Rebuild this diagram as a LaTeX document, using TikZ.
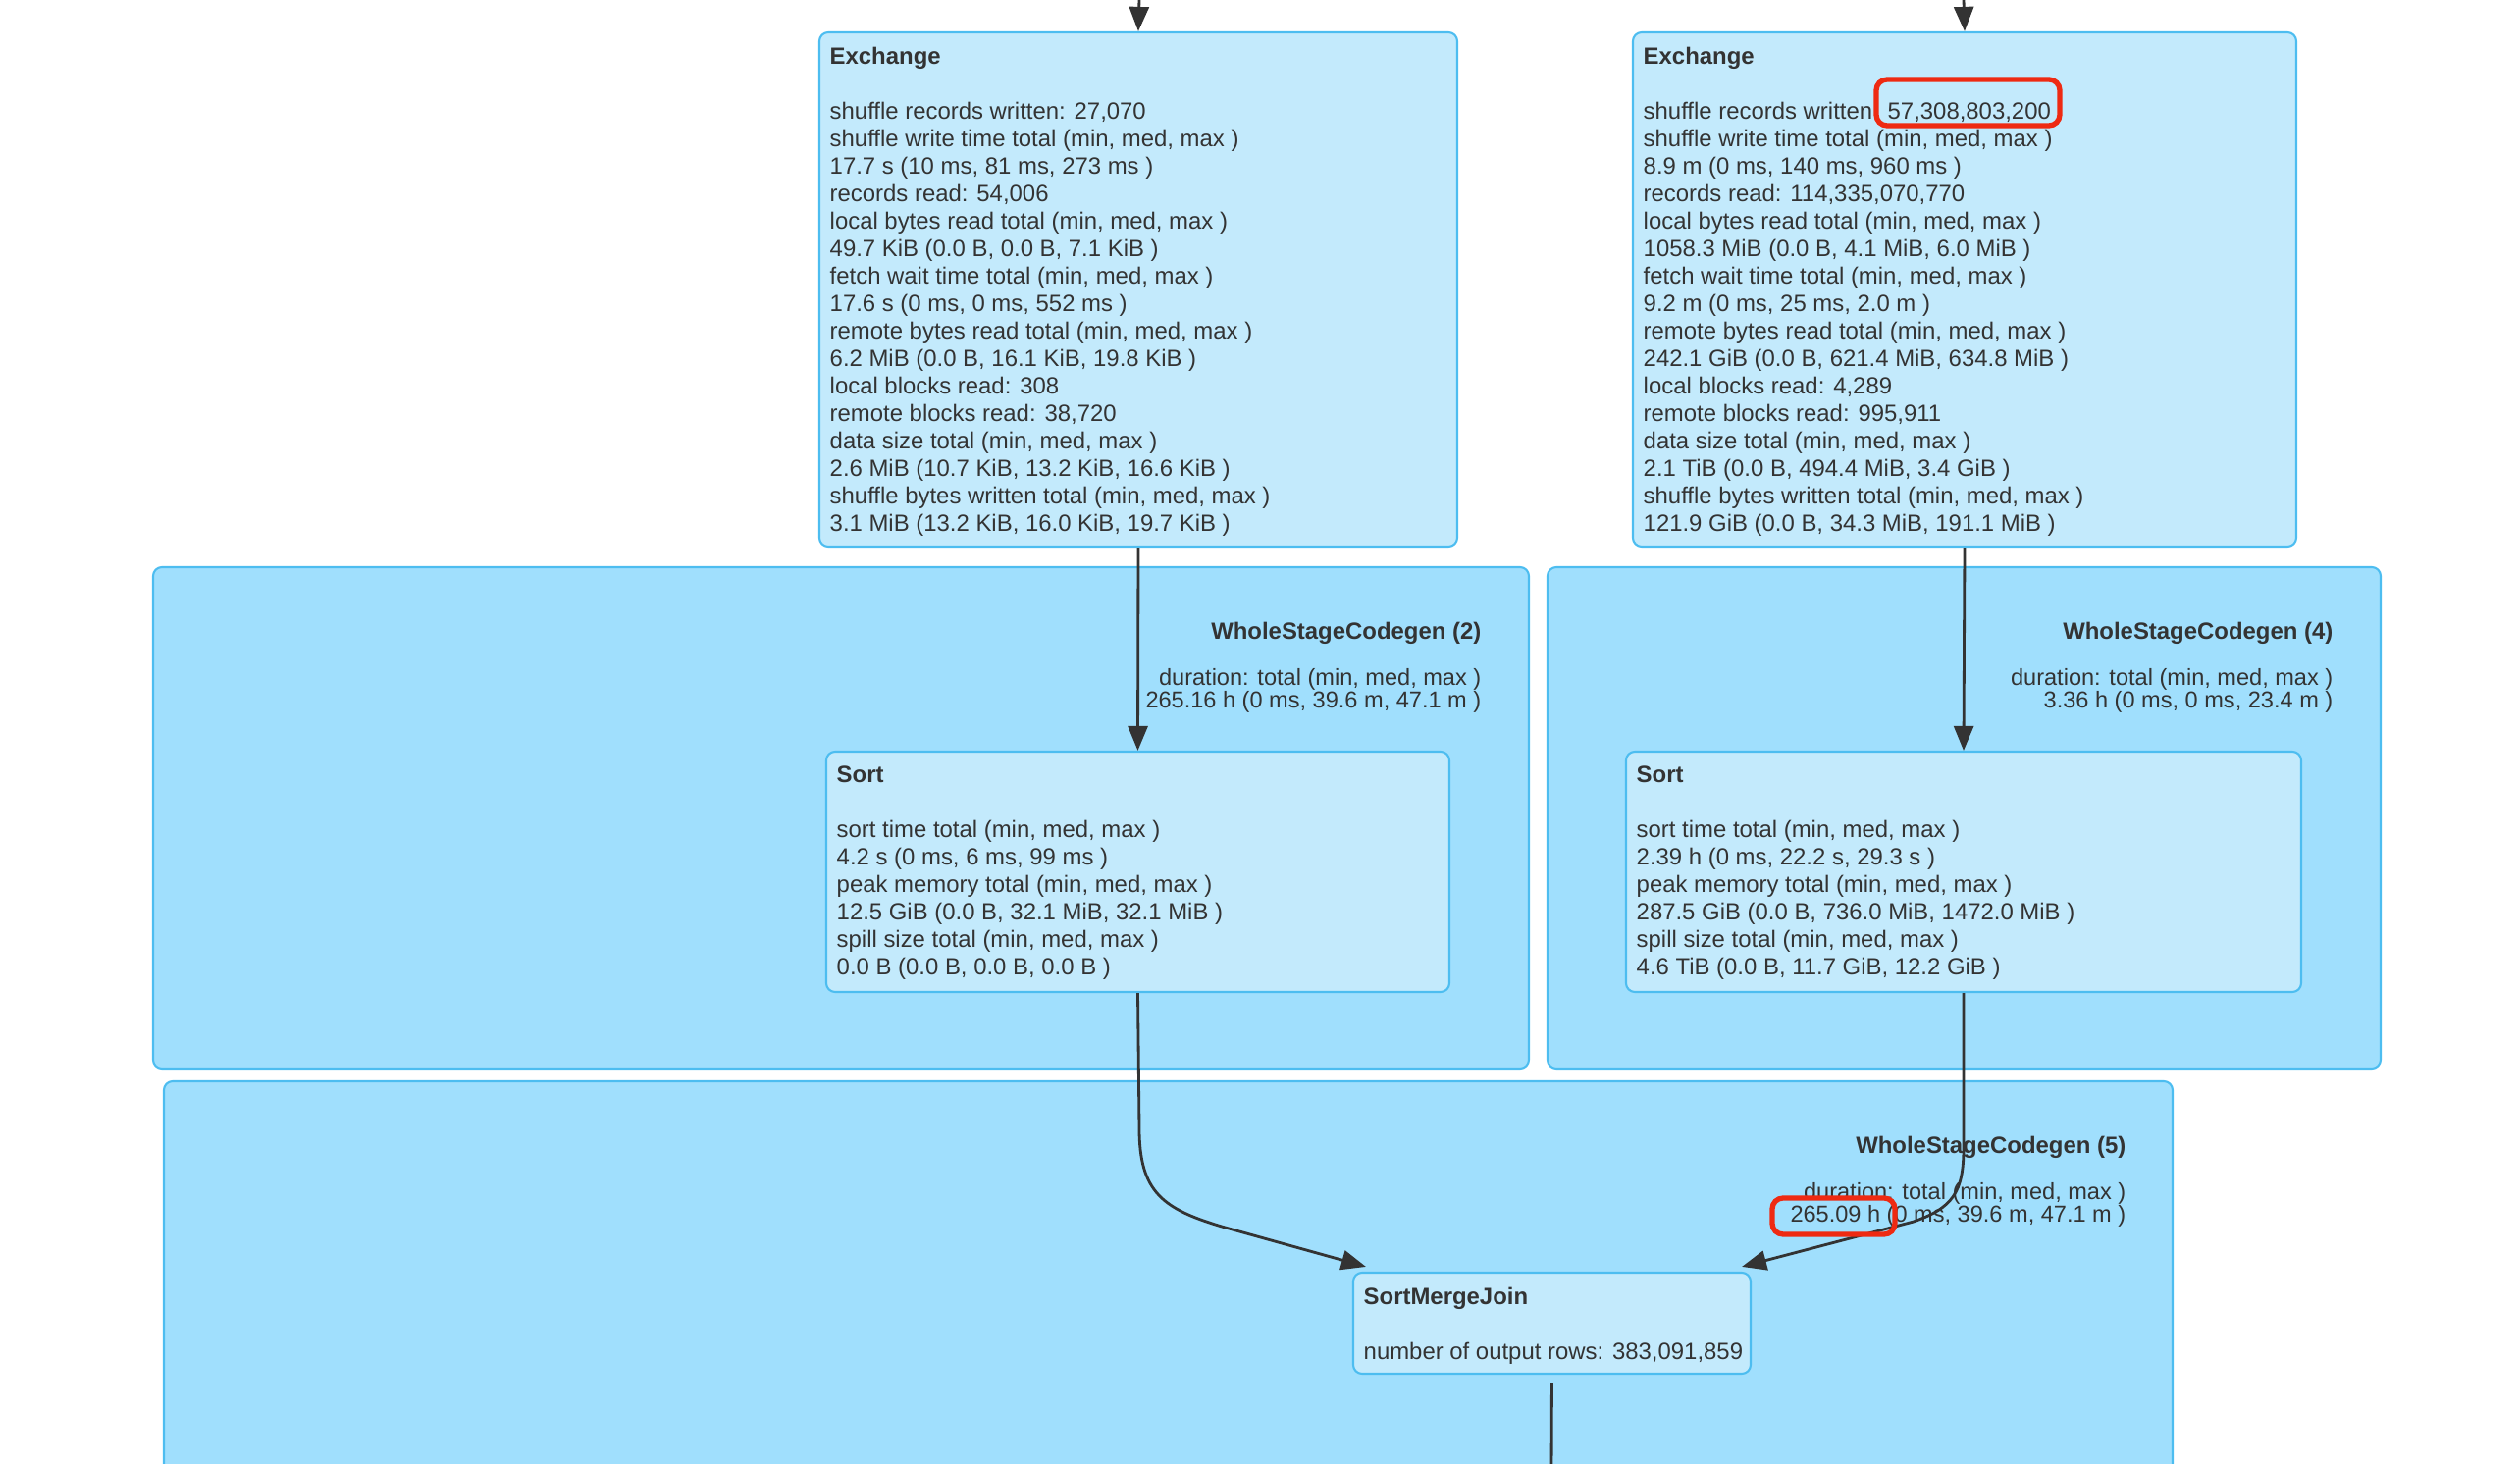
\documentclass[tikz,border=0pt]{standalone}
\usepackage{fontspec}
\setmainfont{Liberation Sans}
\usetikzlibrary{arrows.meta,fit,calc}
\definecolor{clfill}{HTML}{A0DFFD}
\definecolor{clstroke}{HTML}{4DBDF0}
\definecolor{ndfill}{HTML}{C3EAFC}
\definecolor{txtc}{HTML}{333333}
\definecolor{hl}{HTML}{EE2A12}
\tikzset{
  cluster/.style={draw=clstroke, fill=clfill, line width=0.6pt, rounded corners=0.09cm, inner sep=0pt},
  opbox/.style={draw=clstroke, fill=ndfill, line width=0.6pt, rounded corners=0.09cm, inner sep=0pt},
  body/.style={anchor=north west, align=left, inner sep=0pt, text=txtc, font=\fontsize{6.8}{7.97}\selectfont},
  wsctitle/.style={anchor=north east, align=right, inner sep=0pt, text=txtc, font=\bfseries\fontsize{6.8}{7.97}\selectfont},
  wscdur/.style={anchor=north east, align=right, inner sep=0pt, text=txtc, font=\fontsize{6.7}{6.5}\selectfont},
  edge/.style={draw=txtc, line width=0.8pt, -{Triangle[length=0.25cm,width=0.2cm]}},
  plainedge/.style={draw=txtc, line width=0.8pt},
  hlbox/.style={draw=hl, line width=1.5pt, rounded corners=0.11cm, inner sep=0pt}
}
\begin{document}
\begin{tikzpicture}[x=0.01cm,y=-0.01cm]
\useasboundingbox (0,0) rectangle (2568,1492);
\clip (0,0) rectangle (2568,1492);

% clusters
\node[cluster, fit={(156,578) (1558,1089)}] (wsc2) {};
\node[cluster, fit={(1577,578) (2426,1089)}] (wsc4) {};
\node[cluster, fit={(167,1102) (2214,1600)}] (wsc5) {};

\node[wsctitle] (wsc2t) at (1510,633) {WholeStageCodegen (2)};
\node[wscdur] (wsc2d) at (1510,681) {duration: total (min, med, max )\\265.16 h (0 ms, 39.6 m, 47.1 m )};
\node[wsctitle] (wsc4t) at (2378,633) {WholeStageCodegen (4)};
\node[wscdur] (wsc4d) at (2378,681) {duration: total (min, med, max )\\3.36 h (0 ms, 0 ms, 23.4 m )};
\node[wsctitle] (wsc5t) at (2167,1157) {WholeStageCodegen (5)};
\node[wscdur] (wsc5d) at (2167,1205) {duration: total (min, med, max )\\265.09 h (0 ms, 39.6 m, 47.1 m )};

% operator boxes
\node[opbox, fit={(835,33) (1485,557)}] (exL) {};
\node[opbox, fit={(1664,33) (2340,557)}] (exR) {};
\node[opbox, fit={(842,766) (1477,1011)}] (sortL) {};
\node[opbox, fit={(1657,766) (2345,1011)}] (sortR) {};
\node[opbox, fit={(1379,1297) (1784,1400)}] (smj) {};

\node[body] (exLt) at (845,47) {\textbf{Exchange}\\[7.97pt]
shuffle records written: 27,070\\
shuffle write time total (min, med, max )\\
17.7 s (10 ms, 81 ms, 273 ms )\\
records read: 54,006\\
local bytes read total (min, med, max )\\
49.7 KiB (0.0 B, 0.0 B, 7.1 KiB )\\
fetch wait time total (min, med, max )\\
17.6 s (0 ms, 0 ms, 552 ms )\\
remote bytes read total (min, med, max )\\
6.2 MiB (0.0 B, 16.1 KiB, 19.8 KiB )\\
local blocks read: 308\\
remote blocks read: 38,720\\
data size total (min, med, max )\\
2.6 MiB (10.7 KiB, 13.2 KiB, 16.6 KiB )\\
shuffle bytes written total (min, med, max )\\
3.1 MiB (13.2 KiB, 16.0 KiB, 19.7 KiB )};

\node[body] (exRt) at (1674,47) {\textbf{Exchange}\\[7.97pt]
shuffle records written: 57,308,803,200\\
shuffle write time total (min, med, max )\\
8.9 m (0 ms, 140 ms, 960 ms )\\
records read: 114,335,070,770\\
local bytes read total (min, med, max )\\
1058.3 MiB (0.0 B, 4.1 MiB, 6.0 MiB )\\
fetch wait time total (min, med, max )\\
9.2 m (0 ms, 25 ms, 2.0 m )\\
remote bytes read total (min, med, max )\\
242.1 GiB (0.0 B, 621.4 MiB, 634.8 MiB )\\
local blocks read: 4,289\\
remote blocks read: 995,911\\
data size total (min, med, max )\\
2.1 TiB (0.0 B, 494.4 MiB, 3.4 GiB )\\
shuffle bytes written total (min, med, max )\\
121.9 GiB (0.0 B, 34.3 MiB, 191.1 MiB )};

\node[body] (sortLt) at (852,780) {\textbf{Sort}\\[7.97pt]
sort time total (min, med, max )\\
4.2 s (0 ms, 6 ms, 99 ms )\\
peak memory total (min, med, max )\\
12.5 GiB (0.0 B, 32.1 MiB, 32.1 MiB )\\
spill size total (min, med, max )\\
0.0 B (0.0 B, 0.0 B, 0.0 B )};

\node[body] (sortRt) at (1667,780) {\textbf{Sort}\\[7.97pt]
sort time total (min, med, max )\\
2.39 h (0 ms, 22.2 s, 29.3 s )\\
peak memory total (min, med, max )\\
287.5 GiB (0.0 B, 736.0 MiB, 1472.0 MiB )\\
spill size total (min, med, max )\\
4.6 TiB (0.0 B, 11.7 GiB, 12.2 GiB )};

\node[body] (smjt) at (1389,1311) {\textbf{SortMergeJoin}\\[7.97pt]
number of output rows: 383,091,859};

% connectors
\coordinate (inL) at (1161,0);
\coordinate (inR) at (2001,0);
\coordinate (outB) at (1581,1500);
\draw[edge] (inL) -- (exL.north);
\draw[edge] (inR) -- (exR.north);
\draw[edge] (exL.south) -- (sortL.north);
\draw[edge] (exR.south) -- (sortR.north);
\draw[edge] (sortL.south) -- (1161,1150) .. controls (1161,1215) and (1185,1232) .. (1245,1250) -- ($(smj.north west)+(14,-5)$);
\draw[edge] (sortR.south) -- (2001,1170) .. controls (2001,1215) and (1990,1231) .. (1950,1245) -- ($(smj.north east)+(-10,-5)$);
\draw[plainedge, shorten <=0.08cm] (smj.south) -- (outB);

% highlights
\node[hlbox, fit={(1912,81) (2099,128)}] (hl1) {};
\node[hlbox, fit={(1806,1221) (1931,1258)}] (hl2) {};
\end{tikzpicture}
\end{document}
